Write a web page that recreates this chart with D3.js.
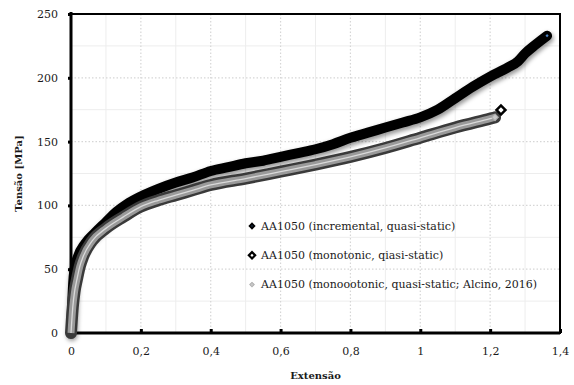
<!DOCTYPE html>
<html>
<head>
<meta charset="utf-8">
<script src="https://cdn.jsdelivr.net/npm/d3@7"></script>
<style>
  body { margin: 0; background: #fff; }
  text { font-family: "DejaVu Serif", serif; fill: #1a1a1a; }
</style>
</head>
<body>
<svg id="chart"></svg>
<script>
(() => {

  // AA1050 (incremental, quasi-static)
  const incStrain = [0, 0.003, 0.006, 0.01, 0.02, 0.04, 0.07, 0.1, 0.13, 0.16, 0.2, 0.25, 0.3, 0.35, 0.4, 0.45, 0.5,
    0.55, 0.6, 0.65, 0.7, 0.75, 0.8, 0.85, 0.9, 0.95, 1.0, 1.05, 1.1, 1.15, 1.2, 1.25, 1.28, 1.3, 1.33, 1.363];
  const incStress = [0, 20, 38, 50, 60, 70, 79, 87, 95, 101, 107, 113, 118, 122, 127, 130, 133,
    135, 138, 141, 144, 148, 153, 157, 161, 165, 169, 175, 184, 193, 201, 208, 213, 219, 226, 233];

  // AA1050 (monotonic, qiasi-static)
  const monoStrain = [0, 0.005, 0.01, 0.017, 0.025, 0.035, 0.06, 0.1, 0.15, 0.2, 0.25, 0.3, 0.35, 0.4, 0.5,
    0.6, 0.7, 0.8, 0.9, 1.0, 1.1, 1.2, 1.214, 1.231];
  const monoStress = [0, 20, 32, 42, 52, 60, 72, 82, 91, 99, 104, 108, 112, 116, 121,
    126.5, 132, 138, 145, 153, 161, 168, 169, 174.8];

  // AA1050 (monoootonic, quasi-static; Alcino, 2016)
  const alcStrain = [0, 0.005, 0.01, 0.017, 0.025, 0.035, 0.06, 0.1, 0.15, 0.2, 0.25, 0.3, 0.35, 0.4, 0.5,
    0.6, 0.7, 0.8, 0.9, 1.0, 1.1, 1.2, 1.214];
  const alcStress = [0, 20, 32, 42, 52, 60, 72, 82, 91, 99, 104, 108, 112, 116, 121,
    126.5, 132, 138, 145, 153, 161, 168, 169];

  const seriesNames = [
    'AA1050 (incremental, quasi-static)',
    'AA1050 (monotonic, qiasi-static)',
    'AA1050 (monoootonic, quasi-static; Alcino, 2016)'
  ];

  const xTicks = [0, 0.2, 0.4, 0.6, 0.8, 1, 1.2, 1.4];
  const xTickLabels = ['0', '0,2', '0,4', '0,6', '0,8', '1', '1,2', '1,4'];
  const yTicks = [0, 50, 100, 150, 200, 250];
  const xMinor = [0.1, 0.3, 0.5, 0.7, 0.9, 1.1, 1.3];
  const yMinor = [25, 75, 125, 175, 225];

  const svgWidth = 574;
  const svgHeight = 385;
  const margin = { top: 14, left: 71, right: 14, bottom: 52 };
  const width = svgWidth - (margin.left + margin.right);
  const height = svgHeight - (margin.top + margin.bottom);

  const svg = d3.select('#chart')
    .attr('width', svgWidth)
    .attr('height', svgHeight);

  const defs = svg.append('defs');
  defs.append('filter').attr('id', 'soft')
    .attr('x', '-10%').attr('y', '-10%').attr('width', '120%').attr('height', '120%')
    .append('feGaussianBlur').attr('stdDeviation', 0.7);
  defs.append('filter').attr('id', 'shadow')
    .attr('x', '-10%').attr('y', '-10%').attr('width', '120%').attr('height', '120%')
    .append('feGaussianBlur').attr('stdDeviation', 2);

  const g = svg.append('g')
    .attr('transform', `translate(${margin.left}, ${margin.top})`);

  const xScale = d3.scaleLinear().domain([0, 1.4]).range([0, width]);
  const yScale = d3.scaleLinear().domain([0, 250]).range([height, 0]);

  // grid
  g.append('g').selectAll('line').data(xMinor).enter().append('line')
    .attr('x1', d => xScale(d)).attr('x2', d => xScale(d))
    .attr('y1', 0).attr('y2', height)
    .attr('stroke', '#ededed').attr('stroke-width', 1);
  g.append('g').selectAll('line').data(yMinor).enter().append('line')
    .attr('y1', d => yScale(d)).attr('y2', d => yScale(d))
    .attr('x1', 0).attr('x2', width)
    .attr('stroke', '#ededed').attr('stroke-width', 1);
  g.append('g').selectAll('line').data(xTicks.slice(1, -1)).enter().append('line')
    .attr('x1', d => xScale(d)).attr('x2', d => xScale(d))
    .attr('y1', 0).attr('y2', height)
    .attr('stroke', '#d6d6d6').attr('stroke-width', 1.2).attr('stroke-dasharray', '1.5,2');
  g.append('g').selectAll('line').data(yTicks.slice(1, -1)).enter().append('line')
    .attr('y1', d => yScale(d)).attr('y2', d => yScale(d))
    .attr('x1', 0).attr('x2', width)
    .attr('stroke', '#d6d6d6').attr('stroke-width', 1.2).attr('stroke-dasharray', '1.5,2');

  // axes
  const xAxis = g.append('g')
    .attr('transform', `translate(0, ${height})`)
    .call(d3.axisBottom(xScale).tickValues(xTicks)
      .tickFormat((d, i) => xTickLabels[i]).tickSize(-4).tickPadding(14));
  const yAxis = g.append('g')
    .call(d3.axisLeft(yScale).tickValues(yTicks).tickSize(3).tickPadding(10));

  [xAxis, yAxis].forEach(ax => {
    ax.select('.domain').remove();
    ax.selectAll('.tick line').attr('stroke', '#000').attr('stroke-width', 3);
    ax.selectAll('.tick text').style('font-family', '"DejaVu Serif", serif')
      .style('font-size', '11px').attr('fill', '#1a1a1a');
  });
  xAxis.selectAll('.tick text').attr('dy', '0.71em');

  // plot frame
  g.append('rect')
    .attr('width', width).attr('height', height)
    .attr('fill', 'none').attr('stroke', '#000').attr('stroke-width', 2);
  g.append('line').attr('x1', 0).attr('x2', width).attr('y1', height).attr('y2', height)
    .attr('stroke', '#000').attr('stroke-width', 3);
  g.append('line').attr('x1', 0).attr('x2', 0).attr('y1', -2).attr('y2', height + 1.5)
    .attr('stroke', '#000').attr('stroke-width', 3);

  const line = d3.line()
    .x(d => xScale(d[0]))
    .y(d => yScale(d[1]))
    .curve(d3.curveMonotoneX);

  // square diamond (rotated square), like the spreadsheet markers
  const diamond = s => d3.symbol().type(d3.symbolSquare).size(s)();
  const place = d => `translate(${xScale(d[0])}, ${yScale(d[1])}) rotate(45)`;

  // incremental series
  const incData = incStrain.map((x, i) => [x, incStress[i]]);
  g.append('path').datum(incData)
    .attr('transform', 'translate(1, 2.5)')
    .attr('fill', 'none').attr('stroke', '#000').attr('stroke-opacity', 0.4)
    .attr('stroke-width', 11).attr('stroke-linecap', 'round').attr('stroke-linejoin', 'round')
    .attr('filter', 'url(#shadow)')
    .attr('d', line);
  g.append('path').datum(incData)
    .attr('fill', 'none').attr('stroke', '#000')
    .attr('stroke-width', 10).attr('stroke-linecap', 'round').attr('stroke-linejoin', 'round')
    .attr('filter', 'url(#soft)')
    .attr('d', line);
  const incLast = incData[incData.length - 1];
  g.append('path')
    .attr('transform', place(incLast))
    .attr('d', diamond(5))
    .attr('fill', '#4f86c6');

  // monotonic series
  const monoData = monoStrain.map((x, i) => [x, monoStress[i]]);
  g.append('path').datum(monoData.slice(0, -1))
    .attr('fill', 'none').attr('stroke', '#3a3a3a')
    .attr('stroke-width', 12).attr('stroke-linecap', 'round')
    .attr('d', line);
  const monoLast = monoData[monoData.length - 1];
  g.append('path')
    .attr('transform', place(monoLast))
    .attr('d', diamond(40))
    .attr('fill', '#fff').attr('stroke', '#000').attr('stroke-width', 2.5);

  // Alcino series
  const alcData = alcStrain.map((x, i) => [x, alcStress[i]]);
  g.append('path').datum(alcData)
    .attr('fill', 'none').attr('stroke', '#9a9a9a')
    .attr('stroke-width', 7)
    .attr('d', line);
  g.append('path').datum(alcData)
    .attr('fill', 'none').attr('stroke', '#dadada')
    .attr('stroke-width', 1.3)
    .attr('d', line);
  const alcLast = alcData[alcData.length - 1];
  g.append('path')
    .attr('transform', place(alcLast))
    .attr('d', diamond(22))
    .attr('fill', '#c8c8c8').attr('stroke', '#aaa').attr('stroke-width', 1);

  // legend
  const legend = svg.append('g').attr('transform', 'translate(252, 226)');
  const legendStyles = [
    { fill: '#2d5a8c', stroke: '#000', sw: 2, size: 10 },
    { fill: '#fff', stroke: '#000', sw: 2.2, size: 20 },
    { fill: '#c8c8c8', stroke: '#b0b0b0', sw: 1, size: 10 }
  ];
  const item = legend.selectAll('.item').data(seriesNames).enter().append('g')
    .attr('transform', (d, i) => `translate(0, ${i * 29.3})`);
  item.append('path')
    .attr('transform', 'rotate(45)')
    .attr('d', (d, i) => diamond(legendStyles[i].size))
    .attr('fill', (d, i) => legendStyles[i].fill)
    .attr('stroke', (d, i) => legendStyles[i].stroke)
    .attr('stroke-width', (d, i) => legendStyles[i].sw);
  item.append('text')
    .attr('x', 9).attr('dy', '0.35em')
    .style('font-size', '11px')
    .text(d => d);

  // axis titles
  svg.append('text')
    .attr('x', margin.left + xScale(0.7)).attr('y', 379)
    .attr('text-anchor', 'middle')
    .style('font-size', '10px').style('font-weight', 'bold')
    .text('Extensão');
  svg.append('text')
    .attr('transform', `translate(22, ${margin.top + yScale(125)}) rotate(-90)`)
    .attr('text-anchor', 'middle')
    .style('font-size', '10px').style('font-weight', 'bold')
    .text('Tensão  [MPa]');

})();
</script>
</body>
</html>
